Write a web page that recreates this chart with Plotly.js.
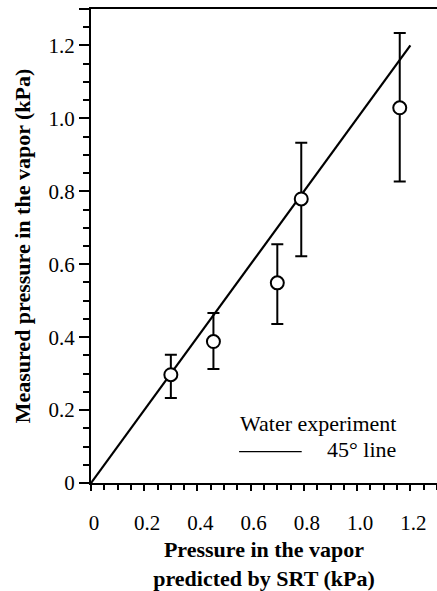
<!DOCTYPE html>
<html>
<head>
<meta charset="utf-8">
<script src="https://cdn.plot.ly/plotly-3.0.1.min.js"></script>
<style>html,body{margin:0;padding:0;background:#fff;}#chart{width:437px;height:591px;}</style>
</head>
<body>
<div id="chart"></div>
<script>
// Data
const predicted = [0.30, 0.46, 0.70, 0.79, 1.16];        // x: pressure predicted by SRT (kPa)
const measured  = [0.297, 0.388, 0.549, 0.779, 1.029];   // y: measured pressure (kPa)
const errPlus   = [0.055, 0.078, 0.106, 0.154, 0.205];
const errMinus  = [0.064, 0.075, 0.113, 0.157, 0.202];
const lineX = [0, 1.2];
const lineY = [0, 1.2];
const xTickVals = [0, 0.2, 0.4, 0.6, 0.8, 1.0, 1.2];
const xTickText = ['0', '0.2', '0.4', '0.6', '0.8', '1.0', '1.2'];
const yTickVals = [0, 0.2, 0.4, 0.6, 0.8, 1.0, 1.2, 1.3];
const yTickText = ['0', '0.2', '0.4', '0.6', '0.8', '1.0', '1.2', ''];
const legendLabels = ['Water experiment', '45° line'];

const serif = 'Liberation Serif';

const traces = [
  {
    x: lineX, y: lineY, type: 'scatter', mode: 'lines',
    line: {color: '#000', width: 2.2}, hoverinfo: 'skip', showlegend: false
  },
  {
    x: predicted, y: measured, type: 'scatter', mode: 'markers',
    marker: {symbol: 'circle', size: 13, color: '#fff', line: {color: '#000', width: 2}},
    error_y: {type: 'data', symmetric: false, array: errPlus, arrayminus: errMinus,
              color: '#000', thickness: 2, width: 6},
    showlegend: false
  }
];

const layout = {
  width: 437, height: 591,
  margin: {l: 91, r: 0, t: 9, b: 108},
  paper_bgcolor: '#fff', plot_bgcolor: '#fff',
  showlegend: false,
  font: {family: serif, color: '#000', size: 21},
  xaxis: {
    range: [0, 1.3], showgrid: false, zeroline: false,
    showline: true, linecolor: '#000', linewidth: 2, mirror: true,
    tickmode: 'array', tickvals: xTickVals, ticktext: xTickText,
    ticks: 'outside', ticklen: 6, tickwidth: 2, tickcolor: '#000',
    ticklabelstandoff: 14, ticklabelshift: 3,
    minor: {tickmode: 'linear', tick0: 0, dtick: 0.05, ticks: 'outside', ticklen: 5, tickwidth: 2, tickcolor: '#000'},
    tickfont: {family: serif, size: 21},
    title: {text: 'Pressure in the vapor<br>predicted by SRT (kPa)', font: {family: serif, size: 22, weight: 'bold'}, standoff: 14}
  },
  yaxis: {
    range: [0, 1.3], showgrid: false, zeroline: false,
    showline: true, linecolor: '#000', linewidth: 2,
    tickmode: 'array', tickvals: yTickVals, ticktext: yTickText,
    ticks: 'outside', ticklen: 10, tickwidth: 2, tickcolor: '#000',
    minor: {tickmode: 'linear', tick0: 0, dtick: 0.05, ticks: 'outside', ticklen: 6, tickwidth: 2, tickcolor: '#000'},
    tickfont: {family: serif, size: 21},
    title: {text: 'Measured pressure in the vapor (kPa)', font: {family: serif, size: 22, weight: 'bold'}, standoff: 12}
  },
  annotations: [
    {xref: 'paper', yref: 'paper', x: 0.426, y: 0.125, xanchor: 'left', yanchor: 'middle',
     text: legendLabels[0], showarrow: false, font: {family: serif, size: 22}},
    {xref: 'paper', yref: 'paper', x: 0.676, y: 0.07, xanchor: 'left', yanchor: 'middle',
     text: legendLabels[1], showarrow: false, font: {family: serif, size: 22}}
  ],
  shapes: [
    {type: 'line', xref: 'paper', yref: 'paper', x0: 0.428, x1: 0.609, y0: 0.066, y1: 0.066,
     line: {color: '#000', width: 1.2}}
  ]
};

Plotly.newPlot('chart', traces, layout, {displayModeBar: false, staticPlot: true});
</script>
</body>
</html>
